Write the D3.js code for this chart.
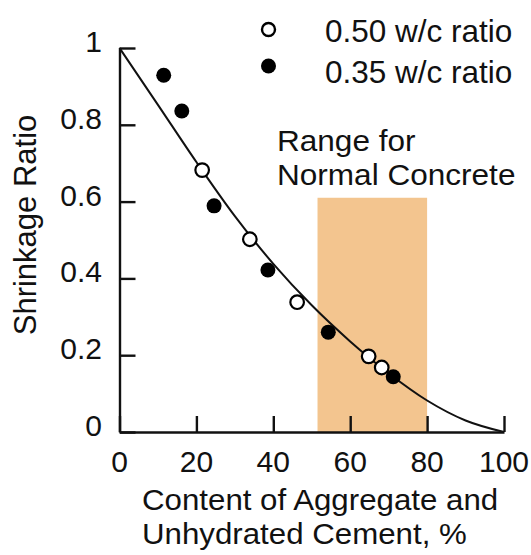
<!DOCTYPE html>
<html>
<head>
<meta charset="utf-8">
<script src="https://cdn.jsdelivr.net/npm/d3@7"></script>
<style>
  body { margin: 0; background: #fff; }
  svg { display: block; }
  text { font-family: "Liberation Sans", Arial, Helvetica, sans-serif; fill: #111; }
</style>
</head>
<body>
<div id="chart"></div>
<script>
// ---- data ----
const xTicks = [0, 20, 40, 60, 80, 100];
const yTicks = [0, 0.2, 0.4, 0.6, 0.8, 1];
const yTickLabels = ["0", "0.2", "0.4", "0.6", "0.8", "1"];

const series050X = [21.5, 33.9, 46.2, 64.8, 68.2];
const series050Y = [0.682, 0.502, 0.338, 0.197, 0.168];

const series035X = [11.5, 16.2, 24.6, 38.6, 54.3, 71.2];
const series035Y = [0.929, 0.836, 0.589, 0.422, 0.26, 0.144];

const curveX = [0, 10, 20, 30, 40, 50, 60, 70, 80, 90, 100];
const curveY = [1.0, 0.852, 0.703, 0.562, 0.438, 0.33, 0.236, 0.153, 0.082, 0.03, 0.0];

const rangeLabel = ["Range for", "Normal Concrete"];
const rangeX = [51.5, 80];
const rangeTop = 0.61;

const legendLabels = ["0.50 w/c ratio", "0.35 w/c ratio"];
const xTitle = ["Content of Aggregate and", "Unhydrated Cement, %"];
const yTitle = "Shrinkage Ratio";

// ---- drawing ----
const W = 531, H = 555;
const svg = d3.select("#chart").append("svg").attr("width", W).attr("height", H);

const x = d3.scaleLinear().domain([0, 100]).range([119.5, 504]);
const y = d3.scaleLinear().domain([0, 1]).range([432, 48]);

// shaded range
svg.append("rect")
  .attr("x", x(rangeX[0]))
  .attr("y", y(rangeTop))
  .attr("width", x(rangeX[1]) - x(rangeX[0]))
  .attr("height", y(0) - y(rangeTop))
  .attr("fill", "#f3c58f");

// axes (ticks pointing inward)
const xAxis = d3.axisTop(x).tickValues(xTicks).tickSize(16).tickFormat("").tickSizeOuter(0);
const gx = svg.append("g").attr("transform", `translate(0,${y(0)})`).call(xAxis);
const yAxis = d3.axisRight(y).tickValues(yTicks).tickSize(16).tickFormat("").tickSizeOuter(0);
const gy = svg.append("g").attr("transform", `translate(${x(0)},0)`).call(yAxis);
[gx, gy].forEach(g => {
  g.selectAll("path.domain").attr("stroke", "#111").attr("stroke-width", 2.4);
  g.selectAll(".tick line").attr("stroke", "#111").attr("stroke-width", 2.4);
});

// tick labels
svg.append("g").selectAll("text").data(xTicks).join("text")
  .attr("x", d => x(d)).attr("y", y(0) + 40)
  .attr("text-anchor", "middle").attr("font-size", 30)
  .text(d => d);
svg.append("g").selectAll("text").data(yTicks).join("text")
  .attr("x", 102).attr("y", d => y(d) + 4)
  .attr("text-anchor", "end").attr("font-size", 30)
  .text((d, i) => yTickLabels[i]);

// x axis title: two lines, slightly widened glyphs like the reference
svg.append("g").attr("transform", "translate(142,0) scale(1.06,1)")
  .selectAll("text").data(xTitle).join("text")
  .attr("x", 0).attr("y", (d, i) => 510 + i * 34)
  .attr("font-size", 29.5).text(d => d);

svg.append("text")
  .attr("transform", `translate(36,225) rotate(-90)`)
  .attr("text-anchor", "middle").attr("font-size", 31)
  .text(yTitle);

// range label
svg.append("g").attr("transform", "translate(277,0) scale(1.07,1)")
  .selectAll("text").data(rangeLabel).join("text")
  .attr("x", 0).attr("y", (d, i) => 151 + i * 34)
  .attr("font-size", 29.5).text(d => d);

// fitted curve
const curveData = curveX.map((d, i) => [d, curveY[i]]);
svg.append("path")
  .datum(curveData)
  .attr("fill", "none").attr("stroke", "#111").attr("stroke-width", 2)
  .attr("d", d3.line().x(d => x(d[0])).y(d => y(d[1])).curve(d3.curveMonotoneX));

// points
const p035 = series035X.map((d, i) => [d, series035Y[i]]);
const p050 = series050X.map((d, i) => [d, series050Y[i]]);
svg.append("g").selectAll("circle").data(p035).join("circle")
  .attr("cx", d => x(d[0])).attr("cy", d => y(d[1])).attr("r", 7.5)
  .attr("fill", "#000");
svg.append("g").selectAll("circle").data(p050).join("circle")
  .attr("cx", d => x(d[0])).attr("cy", d => y(d[1])).attr("r", 6.8)
  .attr("fill", "#fff").attr("stroke", "#000").attr("stroke-width", 2.2);

// legend
const leg = svg.append("g");
leg.append("circle").attr("cx", 268.5).attr("cy", 29.5).attr("r", 6.5)
  .attr("fill", "#fff").attr("stroke", "#000").attr("stroke-width", 2.4);
leg.append("circle").attr("cx", 268.5).attr("cy", 66).attr("r", 7.5).attr("fill", "#000");
leg.append("text").attr("x", 325).attr("y", 42).attr("font-size", 31.5).text(legendLabels[0]);
leg.append("text").attr("x", 325).attr("y", 83).attr("font-size", 31.5).text(legendLabels[1]);
</script>
</body>
</html>
